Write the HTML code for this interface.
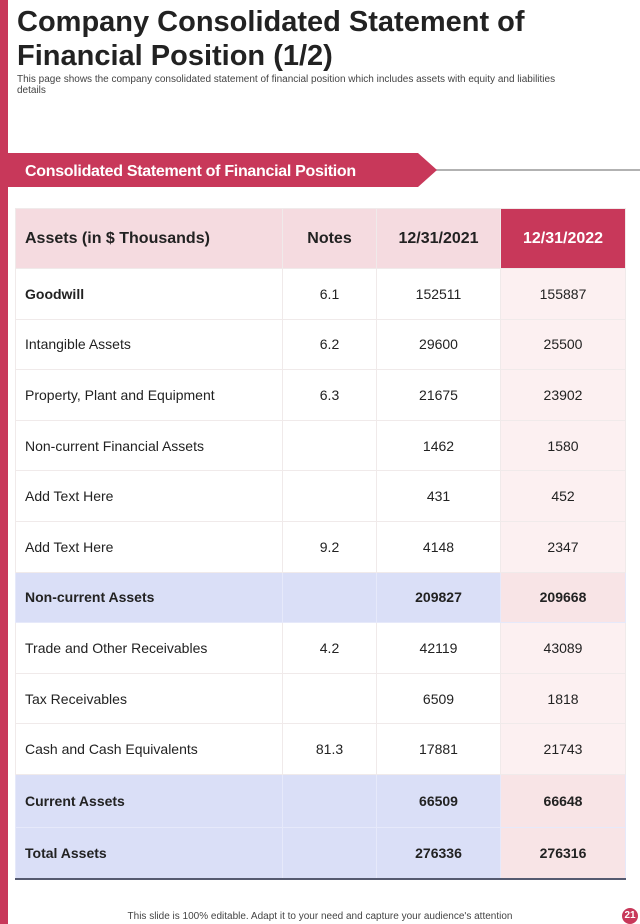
<!DOCTYPE html>
<html><head><meta charset="utf-8"><style>
body{margin:0;width:640px;height:924px;position:relative;background:#fff;font-family:"Liberation Sans",sans-serif;overflow:hidden}
.abs{position:absolute}
table{border-collapse:collapse;position:absolute;left:15px;top:208px;width:610px;table-layout:fixed}
td{border:1px solid #f0eaea;font-size:14px;color:#222;text-align:center;padding:0;height:49.6px}
td.l{text-align:left;padding-left:9px}
tr.h td{background:#f5dbe0;font-weight:bold;font-size:16px;height:59px}
tr.h td.c4{background:#c8385a;color:#fff}
td.c4{background:#fcf0f1}
tr.t td{background:#dadff7;font-weight:bold;border-color:#e6e9fa}
tr.t td.c4{background:#f8e4e6}
</style></head><body>
<div class="abs" style="left:0;top:0;width:8px;height:924px;background:#c8385a"></div>
<div class="abs" style="left:17px;top:5px;font-size:29px;font-weight:bold;line-height:34px;color:#222">Company Consolidated Statement of<br>Financial Position (1/2)</div>
<div class="abs" style="left:17px;top:74px;width:560px;font-size:10px;line-height:11px;color:#444">This page shows the company consolidated statement of financial position which includes assets with equity and liabilities details</div>
<svg class="abs" style="left:0;top:150px" width="640" height="40">
<line x1="436" y1="20" x2="640" y2="20" stroke="#999" stroke-width="1.5"/>
<polygon points="8,3 418,3 437,20 418,37 8,37" fill="#c8385a"/>
<text x="25" y="26" font-size="16" font-weight="bold" fill="#fff" font-family="Liberation Sans, sans-serif" letter-spacing="-0.3">Consolidated Statement of Financial Position</text>
</svg>
<table>
<colgroup><col style="width:267px"><col style="width:94px"><col style="width:124px"><col style="width:125px"></colgroup>
<tr class="h"><td class="l">Assets (in $ Thousands)</td><td>Notes</td><td>12/31/2021</td><td class="c4">12/31/2022</td></tr>
<tr><td class="l" style="font-weight:bold">Goodwill</td><td>6.1</td><td>152511</td><td class="c4">155887</td></tr>
<tr><td class="l">Intangible  Assets</td><td>6.2</td><td>29600</td><td class="c4">25500</td></tr>
<tr><td class="l">Property, Plant and Equipment</td><td>6.3</td><td>21675</td><td class="c4">23902</td></tr>
<tr><td class="l">Non-current  Financial Assets</td><td></td><td>1462</td><td class="c4">1580</td></tr>
<tr><td class="l">Add Text Here</td><td></td><td>431</td><td class="c4">452</td></tr>
<tr><td class="l">Add Text Here</td><td>9.2</td><td>4148</td><td class="c4">2347</td></tr>
<tr class="t"><td class="l">Non-current Assets</td><td></td><td>209827</td><td class="c4">209668</td></tr>
<tr><td class="l">Trade and Other Receivables</td><td>4.2</td><td>42119</td><td class="c4">43089</td></tr>
<tr><td class="l">Tax Receivables</td><td></td><td>6509</td><td class="c4">1818</td></tr>
<tr><td class="l">Cash and Cash Equivalents</td><td>81.3</td><td>17881</td><td class="c4">21743</td></tr>
<tr class="t"><td class="l" style="height:52px">Current Assets</td><td></td><td>66509</td><td class="c4">66648</td></tr>
<tr class="t"><td class="l" style="height:49px;border-bottom:2px solid #555a70">Total Assets</td><td style="border-bottom:2px solid #555a70"></td><td style="border-bottom:2px solid #555a70">276336</td><td class="c4" style="border-bottom:2px solid #555a70">276316</td></tr>
</table>
<div class="abs" style="left:0;width:640px;top:911px;text-align:center;font-size:10px;color:#444">This slide is 100% editable. Adapt it to your need and capture your audience's attention</div>
<div class="abs" style="left:622px;top:908px;width:16px;height:16px;border-radius:50%;background:#c8385a;color:#fff;font-size:10px;font-weight:bold;text-align:center;line-height:16px">21</div>
</body></html>
